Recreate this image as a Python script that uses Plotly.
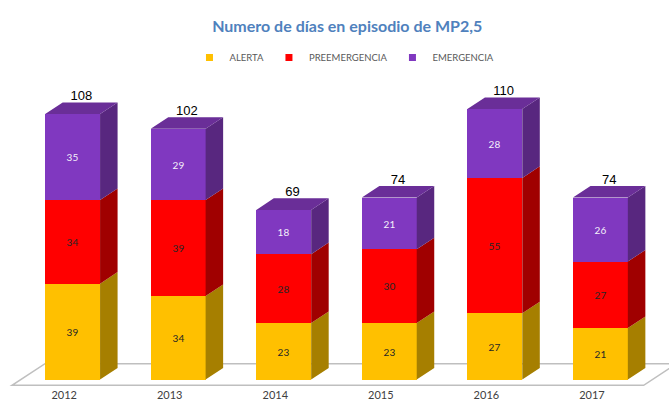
import plotly.graph_objects as go

years = ["2012", "2013", "2014", "2015", "2016", "2017"]
alerta = [39, 34, 23, 23, 27, 21]
preemergencia = [34, 39, 28, 30, 55, 27]
emergencia = [35, 29, 18, 21, 28, 26]

series = [
    ("ALERTA", alerta, "#FFC000", "#A67F00", "#262626"),
    ("PREEMERGENCIA", preemergencia, "#FF0000", "#A00000", "#262626"),
    ("EMERGENCIA", emergencia, "#8038C0", "#58277F", "#F4F0FA"),
]
TOP_COLOR = "#6A2E98"

xs = list(range(len(years)))
W = 0.52      # front face width (x units)
DX = 0.166    # depth offset x (x units)
DY = 4.7      # depth offset y (y units)

fig = go.Figure()

# front faces (stacked bars)
for name, vals, col, side, tcol in series:
    fig.add_trace(go.Bar(
        x=xs, y=vals, width=W, name=name, marker=dict(color=col, line=dict(width=0)),
        text=vals, textposition="inside", insidetextanchor="middle", textangle=0,
        textfont=dict(family="Lato", size=10, color=tcol), constraintext="none",
        showlegend=False, hoverinfo="skip",
    ))

# side faces computed from the stacked values
base = [0] * len(xs)
for name, vals, col, side, tcol in series:
    px, py = [], []
    for i, v in enumerate(vals):
        y0 = base[i]
        y1 = base[i] + v
        xr = xs[i] + W / 2
        px += [xr, xr + DX, xr + DX, xr, xr, None]
        py += [y0, y0 + DY, y1 + DY, y1, y0, None]
        base[i] = y1
    fig.add_trace(go.Scatter(x=px, y=py, mode="lines", fill="toself", fillcolor=side,
                             line=dict(width=0, color=side), showlegend=False, hoverinfo="skip"))

totals = base[:]
# top faces
px, py = [], []
for i, t in enumerate(totals):
    xl = xs[i] - W / 2
    xr = xs[i] + W / 2
    px += [xl, xr, xr + DX, xl + DX, xl, None]
    py += [t, t, t + DY, t + DY, t, None]
fig.add_trace(go.Scatter(x=px, y=py, mode="lines", fill="toself", fillcolor=TOP_COLOR,
                         line=dict(width=0, color=TOP_COLOR), showlegend=False, hoverinfo="skip"))

# total labels
fig.add_trace(go.Scatter(
    x=[x + DX / 2 for x in xs], y=[t + DY - 0.3 for t in totals], mode="text",
    text=[str(t) for t in totals], textposition="top center",
    textfont=dict(family="Liberation Sans", size=13, color="#000000"),
    showlegend=False, hoverinfo="skip", cliponaxis=False,
))

# legend entries
for name, vals, col, side, tcol in series:
    fig.add_trace(go.Scatter(x=[None], y=[None], mode="markers", name=name,
                             marker=dict(symbol="square", size=7, color=col)))

# floor
FX0, FX1, FY0 = -0.574, 5.41, -2.3
FDX, FDY = 0.3126, 8.8
fig.add_shape(type="path", xref="x", yref="y", layer="below",
              path=f"M{FX0},{FY0} L{FX1},{FY0} L{FX1 + FDX},{FY0 + FDY} L{FX0 + FDX},{FY0 + FDY} Z",
              line=dict(color="#BFBFBF", width=1.5), fillcolor="rgba(0,0,0,0)")

fig.update_layout(
    width=669, height=403,
    margin=dict(l=4, r=0, t=72, b=16, autoexpand=False),
    paper_bgcolor="white", plot_bgcolor="white",
    barmode="stack", bargap=0,
    title=dict(text="<b>Numero de días en episodio de MP2,5</b>", x=0.519, xanchor="center",
               y=0.935, yanchor="middle",
               font=dict(family="Lato", size=16, color="#4F81BD")),
    legend=dict(orientation="h", x=0.512, xanchor="center", y=1.046, yanchor="middle",
                traceorder="normal",
                font=dict(family="Lato", size=9.5, color="#595959"),
                itemwidth=30, tracegroupgap=0, bgcolor="rgba(0,0,0,0)"),
    xaxis=dict(range=[-0.65, 5.65], tickvals=[x - 0.08 for x in xs], ticktext=years,
               showgrid=False, zeroline=False, showline=False, ticks="",
               tickfont=dict(family="Lato", size=11, color="#404040")),
    yaxis=dict(range=[-3, 125.05], showgrid=False, zeroline=False, showline=False,
               showticklabels=False, ticks=""),
    showlegend=True,
)

fig.write_html("out.html", config={"displayModeBar": False},
               post_script="document.body.style.margin='0';")
